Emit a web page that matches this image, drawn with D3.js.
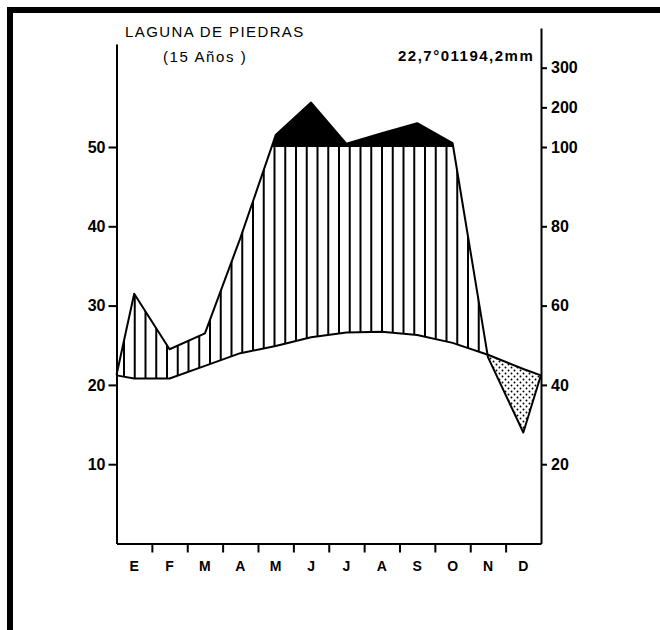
<!DOCTYPE html>
<html>
<head>
<meta charset="utf-8">
<script src="https://cdn.jsdelivr.net/npm/d3@7"></script>
<style>
  body { margin: 0; background: #fff; }
  text { font-family: "Liberation Sans", Arial, sans-serif; fill: #000; }
</style>
</head>
<body>
<div id="chart"></div>
<script>
// climate diagram data (Walter-Lieth style)
var months = ["E","F","M","A","M","J","J","A","S","O","N","D"];
var temp = [20.8, 20.8, 22.4, 24.0, 24.9, 26.0, 26.6, 26.7, 26.3, 25.3, 23.8, 22.0];   // °C
var precip = [63, 49, 53, 77, 130, 212, 108, 135, 160, 110, 47, 28];                     // mm
var edgeTemp = 21.2, edgePrecip = 42.5;   // where the curves meet the side axes
var tempTicks = [10, 20, 30, 40, 50];
var precipTicks = [20, 40, 60, 80, 100, 200, 300];
var station = "LAGUNA DE PIEDRAS",
    years = "(15 Años )",
    summary = "22,7°01194,2mm";

var W = 660, H = 630,
    left = 116.5, right = 541, bottom = 543.5,
    unit = 7.93; // px per °C

var x = d3.scaleLinear().domain([0, 12]).range([left, right]);
var yT = d3.scaleLinear().domain([0, 63]).range([bottom, bottom - 63 * unit]);
// 10 °C = 20 mm up to 100 mm, above that 10 °C = 100 mm
var yP = d3.scaleLinear().domain([0, 100, 400]).range([bottom, yT(50), yT(50) - 300 * unit / 20]);
var band = d3.scaleBand().domain(d3.range(12)).range([left, right]);

var rows = [{m: 0, t: edgeTemp, p: edgePrecip}]
  .concat(months.map(function(d, i) { return {m: i + 0.5, t: temp[i], p: precip[i]}; }))
  .concat([{m: 12, t: edgeTemp, p: edgePrecip}]);

var svg = d3.select("#chart").append("svg")
  .attr("width", W).attr("height", H);

// frame (top and left only)
svg.append("rect").attr("x", 7).attr("y", 7).attr("width", W - 7).attr("height", 6).attr("fill", "#000");
svg.append("rect").attr("x", 7).attr("y", 7).attr("width", 6).attr("height", H - 7).attr("fill", "#000");

var defs = svg.append("defs");

var pat = defs.append("pattern").attr("id", "dots")
  .attr("patternUnits", "userSpaceOnUse").attr("width", 6).attr("height", 6);
pat.append("circle").attr("cx", 1.5).attr("cy", 1.5).attr("r", 0.95).attr("fill", "#000");
pat.append("circle").attr("cx", 4.5).attr("cy", 4.5).attr("r", 0.95).attr("fill", "#000");

var aboveTemp = d3.area().x(function(d) { return x(d.m); }).y0(0).y1(function(d) { return yT(d.t); });
var belowTemp = d3.area().x(function(d) { return x(d.m); }).y0(H).y1(function(d) { return yT(d.t); });
var between = d3.area().x(function(d) { return x(d.m); })
  .y0(function(d) { return yT(d.t); }).y1(function(d) { return yP(d.p); });
var wetArea = d3.area().x(function(d) { return x(d.m); })
  .y0(yT(50)).y1(function(d) { return yP(d.p); });

defs.append("clipPath").attr("id", "aboveTemp").append("path").attr("d", aboveTemp(rows));
defs.append("clipPath").attr("id", "belowTemp").append("path").attr("d", belowTemp(rows));
defs.append("clipPath").attr("id", "between").append("path").attr("d", between(rows));
defs.append("clipPath").attr("id", "below100").append("rect")
  .attr("x", 0).attr("y", yT(50)).attr("width", W).attr("height", H);
defs.append("clipPath").attr("id", "above100").append("rect")
  .attr("x", 0).attr("y", 0).attr("width", W).attr("height", yT(50));

// humid season: vertical hatching
var hatch = svg.append("g").attr("clip-path", "url(#below100)")
  .append("g").attr("clip-path", "url(#aboveTemp)")
  .append("g").attr("clip-path", "url(#between)");
hatch.selectAll("line")
  .data(d3.range(124, right, 10.75))
  .enter().append("line")
  .attr("x1", function(d) { return d; }).attr("x2", function(d) { return d; })
  .attr("y1", yT(50)).attr("y2", bottom)
  .attr("stroke", "#000").attr("stroke-width", 2);

// dry season: dots
svg.append("g").attr("clip-path", "url(#belowTemp)")
  .append("path").attr("d", between(rows)).attr("fill", "url(#dots)");

// very wet (> 100 mm): solid black
svg.append("g").attr("clip-path", "url(#above100)")
  .append("path").attr("d", wetArea(rows)).attr("fill", "#000");

// curves
svg.append("path")
  .attr("d", d3.line().x(function(d) { return x(d.m); }).y(function(d) { return yT(d.t); })(rows))
  .attr("fill", "none").attr("stroke", "#000").attr("stroke-width", 2).attr("stroke-linejoin", "round");
svg.append("path")
  .attr("d", d3.line().x(function(d) { return x(d.m); }).y(function(d) { return yP(d.p); })(rows))
  .attr("fill", "none").attr("stroke", "#000").attr("stroke-width", 2).attr("stroke-linejoin", "round");

// axes
function styleAxis(g, size) {
  g.selectAll("path, line").attr("stroke", "#000").attr("stroke-width", 2);
  g.selectAll("text").attr("font-size", size).attr("font-weight", "bold")
    .attr("font-family", "Liberation Sans, Arial, sans-serif").attr("fill", "#000");
}

svg.append("g").attr("transform", "translate(" + left + ",0)")
  .call(d3.axisLeft(yT).tickValues(tempTicks).tickSize(8).tickPadding(3).tickSizeOuter(0))
  .call(styleAxis, 16);

svg.append("g").attr("transform", "translate(" + right + ",0)")
  .call(d3.axisRight(yP).tickValues(precipTicks).tickSize(6).tickPadding(4).tickSizeOuter(0))
  .call(styleAxis, 16);

svg.append("g").attr("transform", "translate(0," + bottom + ")")
  .call(d3.axisBottom(x).tickValues(d3.range(1, 12)).tickFormat("").tickSize(9).tickSizeOuter(0))
  .call(styleAxis, 14);

svg.append("g").attr("transform", "translate(0," + bottom + ")")
  .call(d3.axisBottom(band).tickFormat(function(i) { return months[i]; }).tickSize(0).tickPadding(18))
  .call(function(g) { g.select(".domain").remove(); })
  .call(styleAxis, 14);

// titles
svg.append("text").attr("x", 125).attr("y", 37)
  .attr("font-size", 15).attr("letter-spacing", 1.4).text(station);
svg.append("text").attr("x", 163).attr("y", 62)
  .attr("font-size", 15).attr("letter-spacing", 1.6).text(years);
svg.append("text").attr("x", 398).attr("y", 61)
  .attr("font-size", 15).attr("font-weight", "bold").attr("letter-spacing", 1.5).text(summary);
</script>
</body>
</html>
